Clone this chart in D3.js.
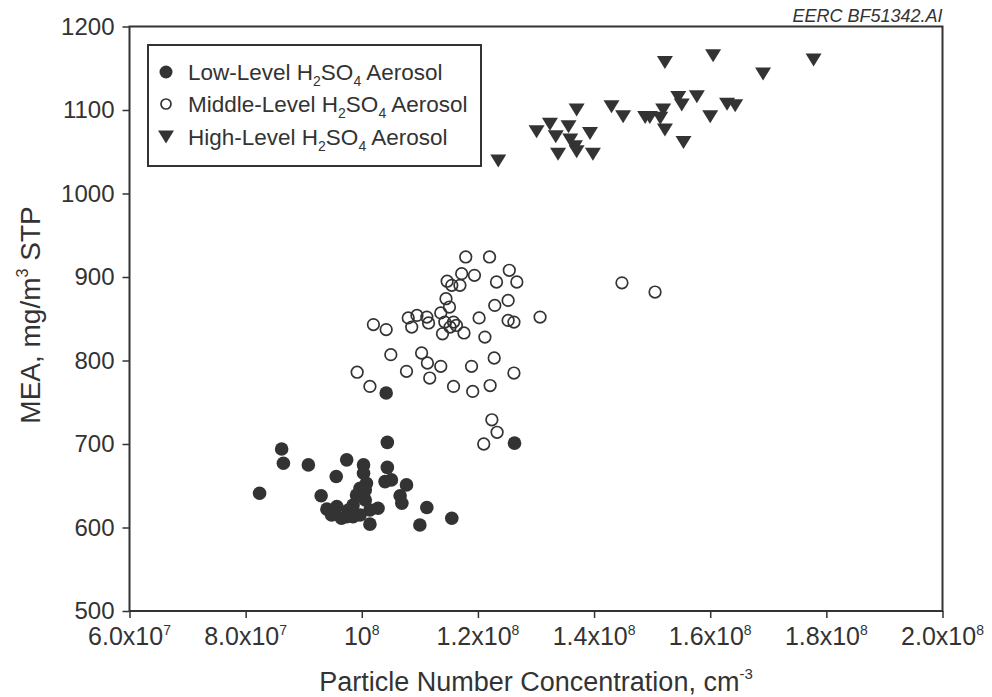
<!DOCTYPE html>
<html>
<head>
<meta charset="utf-8">
<script src="https://cdn.jsdelivr.net/npm/d3@7"></script>
<style>
  body { margin: 0; background: #fff; }
  text { font-family: "Liberation Sans", Arial, sans-serif; fill: #333; }
</style>
</head>
<body>
<svg id="chart"></svg>
<script>
// particle concentration in units of 10^7 cm^-3, MEA in mg/m3 STP
let lowConc = [8.62, 8.65, 8.24, 9.08, 9.74, 10.44, 9.56, 10.03, 10.03, 10.44,
    10.40, 10.51, 10.77, 10.66, 10.69, 9.30, 9.40, 9.48, 9.65, 9.77,
    9.85, 9.91, 9.97, 10.08, 10.06, 10.14, 9.97, 9.85, 9.74, 10.28,
    10.14, 11.12, 11.00, 11.55, 9.57, 10.06, 10.42, 12.63]
let lowMea = [694, 677, 641, 675, 681, 702, 661, 675, 665, 672,
    655, 657, 651, 638, 629, 638, 622, 615, 611, 621,
    627, 639, 647, 653, 633, 621, 615, 613, 613, 623,
    604, 624, 603, 611, 625, 645, 761, 701]

let midConc = [11.79, 12.20, 12.54, 12.67, 12.32, 11.94, 11.72, 11.47, 11.55, 11.69,
    11.45, 11.51, 12.52, 12.29, 13.07, 12.52, 12.62, 12.02, 10.20, 10.42,
    10.80, 10.95, 10.86, 11.12, 11.15, 11.36, 11.43, 11.58, 11.63, 11.39,
    11.52, 11.76, 12.12, 10.50, 11.03, 11.13, 11.36, 10.77, 9.92, 11.17,
    11.89, 12.28, 12.62, 10.14, 11.58, 11.91, 12.21, 12.24, 12.33, 12.10,
    14.48, 15.05]
let midMea = [924, 924, 908, 894, 894, 902, 904, 895, 890, 890,
    874, 864, 872, 866, 852, 848, 846, 851, 843, 837,
    851, 854, 840, 852, 845, 857, 846, 846, 842, 832,
    840, 833, 828, 807, 809, 797, 793, 787, 786, 779,
    793, 803, 785, 769, 769, 763, 770, 729, 714, 700,
    893, 882]

let highConc = [12.35, 13.01, 13.24, 13.34, 13.56, 13.70, 13.38, 13.59, 13.67, 13.70,
    13.93, 13.98, 14.30, 14.50, 14.88, 14.96, 15.19, 15.14, 15.22, 15.22,
    15.45, 15.51, 15.77, 15.54, 16.05, 16.00, 16.29, 16.43, 16.91, 17.78]
let highMea = [1039, 1074, 1083, 1068, 1080, 1100, 1047, 1064, 1056, 1050,
    1072, 1047, 1104, 1092, 1091, 1091, 1100, 1090, 1076, 1157,
    1115, 1106, 1116, 1061, 1165, 1092, 1107, 1105, 1143, 1160]

// ticks
let xTicks = [6e7, 8e7, 1e8, 1.2e8, 1.4e8, 1.6e8, 1.8e8, 2e8]
let xTickBase = ['6.0x10', '8.0x10', '10', '1.2x10', '1.4x10', '1.6x10', '1.8x10', '2.0x10']
let xTickExp = ['7', '7', '8', '8', '8', '8', '8', '8']
let yTicks = [500, 600, 700, 800, 900, 1000, 1100, 1200]

let seriesNames = ['Low-Level', 'Middle-Level', 'High-Level']

// canvas
let width = 992
let height = 697
let plotLeft = 129.5
let plotRight = 942.5
let plotTop = 26.5
let plotBottom = 611
let ink = '#333'

let svg = d3.select('#chart')
    .attr('width', width)
    .attr('height', height)

let xScale = d3.scaleLinear().domain([6e7, 2e8]).range([plotLeft, plotRight])
let yScale = d3.scaleLinear().domain([500, 1200]).range([plotBottom, plotTop])

// down-pointing triangle marker
let triDown = {
    draw: (ctx, size) => {
        let w = 8, h = 6.5
        ctx.moveTo(-w, -h)
        ctx.lineTo(w, -h)
        ctx.lineTo(0, h)
        ctx.closePath()
    }
}

// axes
let yAxis = d3.axisLeft(yScale).tickValues(yTicks).tickSize(7).tickPadding(8)
    .tickFormat(d3.format('d'))
let gy = svg.append('g')
    .attr('transform', 'translate(' + plotLeft + ',0)')
    .call(yAxis)
gy.select('.domain').remove()
gy.selectAll('line').attr('stroke', ink).attr('stroke-width', 1.5)
gy.selectAll('text').style('font-size', '24px').attr('fill', ink)

let xAxis = d3.axisBottom(xScale).tickValues(xTicks).tickSize(7).tickFormat('')
let gx = svg.append('g')
    .attr('transform', 'translate(0,' + plotBottom + ')')
    .call(xAxis)
gx.select('.domain').remove()
gx.selectAll('line').attr('stroke', ink).attr('stroke-width', 1.5)

xTicks.forEach((v, i) => {
    let t = svg.append('text')
        .attr('x', xScale(v))
        .attr('y', plotBottom + 34)
        .attr('text-anchor', 'middle')
        .style('font-size', '25px')
    t.append('tspan').text(xTickBase[i])
    t.append('tspan').attr('dy', -10).style('font-size', '14px').text(xTickExp[i])
})

// frame
svg.append('rect')
    .attr('x', plotLeft).attr('y', plotTop)
    .attr('width', plotRight - plotLeft).attr('height', plotBottom - plotTop)
    .attr('fill', 'none').attr('stroke', ink).attr('stroke-width', 2)

// points
svg.append('g').selectAll('circle')
    .data(lowConc)
    .enter()
    .append('circle')
    .attr('cx', (d) => xScale(d * 1e7))
    .attr('cy', (d, i) => yScale(lowMea[i]))
    .attr('r', 6.8)
    .attr('fill', ink)

svg.append('g').selectAll('circle')
    .data(midConc)
    .enter()
    .append('circle')
    .attr('cx', (d) => xScale(d * 1e7))
    .attr('cy', (d, i) => yScale(midMea[i]))
    .attr('r', 5.8)
    .attr('fill', 'none')
    .attr('stroke', ink)
    .attr('stroke-width', 1.7)

svg.append('g').selectAll('path')
    .data(highConc)
    .enter()
    .append('path')
    .attr('d', d3.symbol(triDown)())
    .attr('transform', (d, i) => 'translate(' + xScale(d * 1e7) + ',' + yScale(highMea[i]) + ')')
    .attr('fill', ink)

// axis titles
let xt = svg.append('text')
    .attr('x', (plotLeft + plotRight) / 2)
    .attr('y', 691)
    .attr('text-anchor', 'middle')
    .style('font-size', '27px')
xt.append('tspan').text('Particle Number Concentration, cm')
xt.append('tspan').attr('dy', -12).style('font-size', '15px').text('-3')

let yt = svg.append('text')
    .attr('transform', 'translate(40,315) rotate(-90)')
    .attr('text-anchor', 'middle')
    .style('font-size', '28px')
yt.append('tspan').text('MEA, mg/m')
yt.append('tspan').attr('dy', -12).style('font-size', '16px').text('3')
yt.append('tspan').attr('dy', 12).text(' STP')

// file tag
svg.append('text')
    .attr('x', plotRight)
    .attr('y', 22)
    .attr('text-anchor', 'end')
    .style('font-size', '18px')
    .style('font-style', 'italic')
    .text('EERC BF51342.AI')

// legend
let legend = svg.append('g')
legend.append('rect')
    .attr('x', 148).attr('y', 45)
    .attr('width', 333).attr('height', 121)
    .attr('fill', '#fff').attr('stroke', ink).attr('stroke-width', 2)

let rowY = [72, 104, 137]
legend.append('circle').attr('cx', 166).attr('cy', rowY[0]).attr('r', 6.5).attr('fill', ink)
legend.append('circle').attr('cx', 166).attr('cy', rowY[1]).attr('r', 5)
    .attr('fill', 'none').attr('stroke', ink).attr('stroke-width', 1.7)
legend.append('path').attr('d', d3.symbol(triDown)())
    .attr('transform', 'translate(166,' + rowY[2] + ')').attr('fill', ink)

seriesNames.forEach((name, i) => {
    let t = legend.append('text')
        .attr('x', 188)
        .attr('y', rowY[i] + 8)
        .style('font-size', '22.5px')
    t.append('tspan').text(name + ' H')
    t.append('tspan').attr('dy', 6).style('font-size', '14px').text('2')
    t.append('tspan').attr('dy', -6).text('SO')
    t.append('tspan').attr('dy', 6).style('font-size', '14px').text('4')
    t.append('tspan').attr('dy', -6).text(' Aerosol')
})
</script>
</body>
</html>
